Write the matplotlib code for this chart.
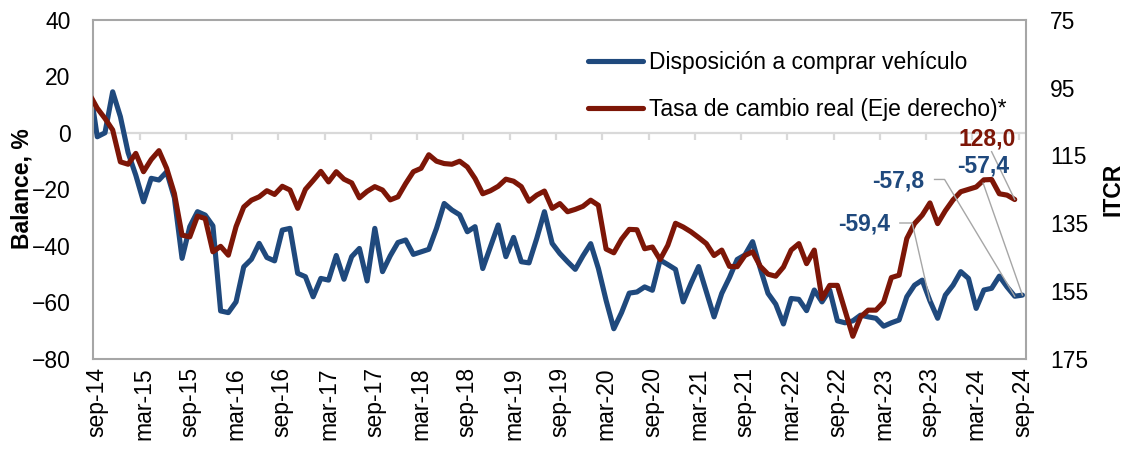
import numpy as np
import matplotlib
matplotlib.use('Agg')
import matplotlib.pyplot as plt

plt.rcParams['font.family'] = ['Liberation Sans', 'DejaVu Sans']

# monthly data, aug-14 .. sep-24 (aug-14 only shows as the clipped start of the lines)
blue = [17.0,
        -1.4, 0.0, 14.5, 5.7, -7.0, -15.0, -24.4, -16.1, -16.7, -13.8, -23.0, -44.4,
        -33.2, -27.9, -29.1, -32.9, -63.0, -63.6, -59.8, -47.4, -44.7, -39.1, -44.1, -45.3,
        -34.4, -33.8, -49.7, -50.9, -58.0, -51.5, -52.1, -43.4, -51.8, -43.8, -40.9, -52.4,
        -33.8, -49.1, -43.5, -38.8, -37.9, -43.0, -42.1, -41.2, -33.8, -25.0, -27.3, -29.0,
        -35.0, -33.2, -48.0, -40.3, -32.6, -43.8, -37.0, -45.6, -46.0, -37.4, -27.9, -39.1,
        -42.7, -45.6, -48.3, -43.5, -39.2, -48.0, -59.3, -69.3, -63.6, -56.7, -56.3, -54.5,
        -55.7, -45.0, -46.6, -48.3, -59.8, -53.3, -47.3, -56.2, -65.1, -56.8, -51.2, -44.8,
        -43.2, -38.5, -48.0, -56.8, -60.6, -67.6, -58.6, -58.9, -62.9, -55.6, -59.8, -55.6,
        -66.5, -67.2, -66.5, -64.5, -65.1, -65.6, -68.4, -67.2, -66.2, -58.0, -53.9, -52.1,
        -59.4, -65.6, -57.4, -53.9, -49.1, -51.5, -62.1, -55.6, -55.0, -50.7, -54.5, -57.8,
        -57.4]

# real exchange rate index (right axis), ends aug-24
red = [97.0,
       101.1, 104.1, 107.5, 116.9, 117.6, 114.4, 119.8, 116.2, 113.6, 118.8, 126.2, 138.5,
       139.0, 132.9, 133.6, 143.4, 141.8, 144.4, 136.0, 130.2, 128.2, 127.2, 125.4, 126.5,
       124.1, 125.2, 130.6, 125.0, 122.4, 119.7, 122.8, 119.8, 122.0, 123.1, 127.5, 125.6,
       124.2, 125.2, 128.1, 127.2, 123.3, 119.8, 118.8, 114.8, 116.7, 117.4, 117.6, 116.7,
       118.4, 121.8, 126.3, 125.4, 124.1, 122.0, 122.6, 124.2, 128.5, 126.7, 125.5, 130.6,
       129.2, 131.6, 130.9, 130.0, 128.2, 129.7, 142.6, 143.7, 139.7, 136.8, 136.9, 142.5,
       142.0, 145.7, 141.5, 135.0, 136.1, 137.5, 139.2, 141.0, 144.5, 142.9, 147.7, 147.8,
       144.5, 143.4, 147.7, 150.0, 150.6, 147.9, 142.9, 141.0, 146.9, 142.9, 157.2, 153.3,
       153.3, 160.8, 168.3, 162.6, 160.6, 160.6, 158.2, 151.0, 150.3, 139.5, 135.1, 132.6,
       129.0, 135.1, 131.3, 128.1, 125.7, 125.0, 124.3, 122.2, 122.1, 126.3, 126.7, 128.0]

tick_labels = ['sep-14', 'mar-15', 'sep-15', 'mar-16', 'sep-16', 'mar-17', 'sep-17',
               'mar-18', 'sep-18', 'mar-19', 'sep-19', 'mar-20', 'sep-20', 'mar-21',
               'sep-21', 'mar-22', 'sep-22', 'mar-23', 'sep-23', 'mar-24', 'sep-24']

BLUE = '#1f497d'
RED = '#7d1607'
GRID = '#d9d9d9'
LEADER = '#a6a6a6'
FS = 16.5

x_blue = np.arange(-1, len(blue) - 1)
x_red = np.arange(-1, len(red) - 1)

fig = plt.figure(figsize=(11.27, 4.51), dpi=100)
W, H = 1127, 451
ax = fig.add_axes([93.4 / W, 1 - 359 / H, (1026.3 - 93.4) / W, (359 - 19.7) / H])
ax2 = ax.twinx()

# zero line with small category ticks below it
ax.axhline(0, color=GRID, lw=1.6, zorder=0.5)
ax.vlines(np.arange(5.5, 120, 6), -2.6, 0, color=GRID, lw=1.6, zorder=0.5)

l1, = ax.plot(x_blue, blue, color=BLUE, lw=3.7, solid_joinstyle='round', solid_capstyle='round')
l2, = ax2.plot(x_red, red, color=RED, lw=3.7, solid_joinstyle='round', solid_capstyle='round')

ax.set_xlim(-0.5, 120.5)
ax.set_ylim(-80, 40)
ax.set_yticks(np.arange(-80, 41, 20))
ax2.set_ylim(175, 75)
ax2.set_yticks(np.arange(75, 176, 20))

ax.set_xticks(np.arange(0, 121, 6))
ax.set_xticklabels(tick_labels, rotation=90, fontsize=FS)
ax.tick_params(axis='x', length=0, pad=6)
ax.tick_params(axis='y', length=0, pad=16.5, labelsize=FS)
ax2.tick_params(axis='y', length=0, pad=17, labelsize=FS)

for s in ax.spines.values():
    s.set_color('#a6a6a6')
    s.set_linewidth(1.5)
for s in ax2.spines.values():
    s.set_visible(False)

fig.text(22 / W, 1 - 189 / H, 'Balance, %', rotation=90, ha='center', va='center',
         fontsize=FS, fontweight='bold')
fig.text(1113 / W, 1 - 189 / H, 'ITCR', rotation=90, ha='center', va='center',
         fontsize=FS, fontweight='bold')

leg = ax2.legend([l1, l2], ['Disposición a comprar vehículo', 'Tasa de cambio real (Eje derecho)*'],
                 loc='upper left', bbox_to_anchor=(588 / W, 1 - 51 / H), bbox_transform=fig.transFigure,
                 frameon=False, fontsize=FS, handlelength=2.4, handletextpad=0.25,
                 labelspacing=1.04, borderpad=0, borderaxespad=0)


def fmt(v):
    return f'{v:.1f}'.replace('.', ',')


# data labels with leader lines (blue ones in left-axis coordinates)
bt = ax.transData
i108, i119, i120 = 108 + 1, 119 + 1, 120 + 1
ax2.text(102.8, -32.3, fmt(blue[i108]), transform=bt, ha='right', va='center',
         color=BLUE, fontsize=FS, fontweight='bold')
ax2.plot([104.1, 105.7, 108], [-31.9, -31.9, blue[i108]], transform=bt, color=LEADER, lw=1)

ax2.text(107.2, -17.1, fmt(blue[i119]), transform=bt, ha='right', va='center',
         color=BLUE, fontsize=FS, fontweight='bold')
ax2.plot([108.6, 109.9, 119], [-16.5, -16.5, blue[i119]], transform=bt, color=LEADER, lw=1)

ax2.text(114.9, -11.8, fmt(blue[i120]), transform=bt, ha='center', va='center',
         color=BLUE, fontsize=FS, fontweight='bold')
ax2.plot([114.9, 120], [-17.8, blue[i120]], transform=bt, color=LEADER, lw=1)

ax2.text(115.4, 110.2, fmt(red[-1]), ha='center', va='center',
         color=RED, fontsize=FS, fontweight='bold')
ax2.plot([116.0, 119], [113.9, red[-1]], color=LEADER, lw=1)

fig.savefig('out.png', dpi=100)
